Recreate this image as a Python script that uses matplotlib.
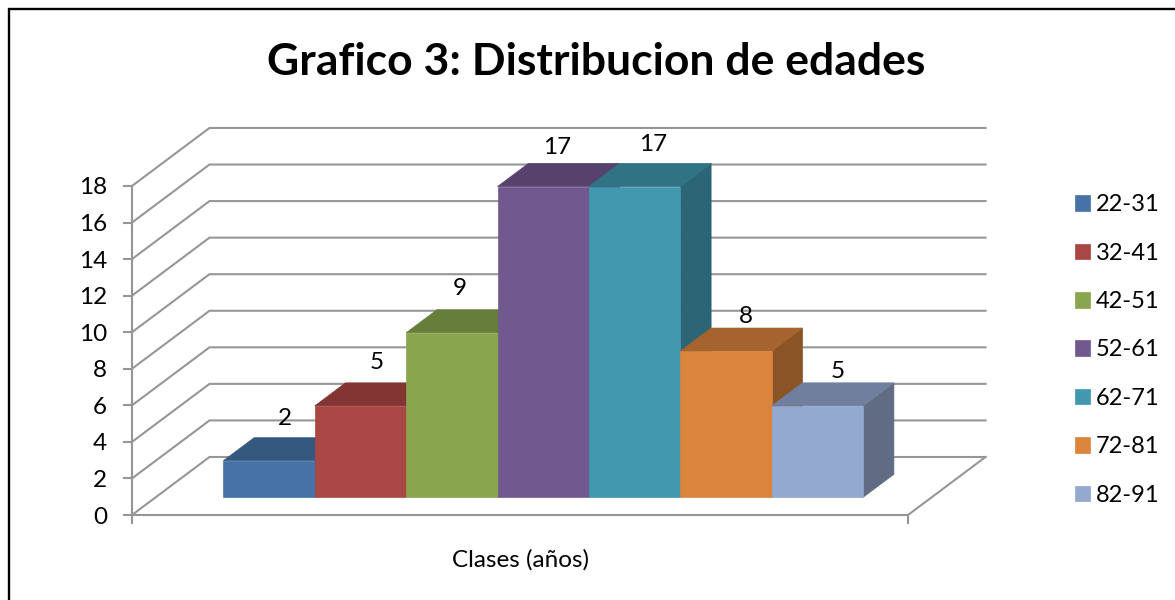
import matplotlib
matplotlib.use('Agg')
import matplotlib.pyplot as plt
from matplotlib.patches import Polygon

plt.rcParams['font.family'] = ['Lato', 'DejaVu Sans']

# datos
clases = ['22-31', '32-41', '42-51', '52-61', '62-71', '72-81', '82-91']
valores = [2, 5, 9, 17, 17, 8, 5]
y_ticks = [0, 2, 4, 6, 8, 10, 12, 14, 16, 18]

# colores: frente, arriba, lado
frente = ['#4672A8', '#AA4643', '#89A54E', '#71588F', '#4198AF', '#DB843D', '#93A9CF']
arriba = ['#35587F', '#833533', '#677D3A', '#56426D', '#307385', '#A5632D', '#6F7F9D']
lado = ['#2F4E72', '#752F2D', '#5C7034', '#4C3B61', '#2B6576', '#8B5426', '#5F6C84']

# desplazamiento de las etiquetas respecto a la barra (px)
label_dx = [16, 16, 8, 14, 18, 20, 20]
label_dy = [42, 43, 44, 39, 42, 35, 34]

W, H = 1175, 600
BAR_PX = 91.4      # ancho de barra
UNIT_PX = 18.28    # px por unidad de y
BAR_X0 = 199.7     # origen de x (primera barra, antes de la profundidad)
WALL_Y0 = 515.0    # y=0 en la pared frontal

# profundidad: 0 = frente, 1 = fondo
DEPTH_X = 77.5 / BAR_PX
DEPTH_Y = 58.0 / UNIT_PX
BAR_FRONT = 0.305
BAR_BACK = 0.702
WALL_L = (132 - BAR_X0) / BAR_PX
WALL_R = (908 - BAR_X0) / BAR_PX


def proj(x, y, d=0.0):
    return (x + d * DEPTH_X, y + d * DEPTH_Y)


fig = plt.figure(figsize=(W / 100, H / 100), dpi=100)
ax = fig.add_axes([0, 0, 1, 1])
ax.set_xlim(-BAR_X0 / BAR_PX, (W - BAR_X0) / BAR_PX)
ax.set_ylim(-(H - WALL_Y0) / UNIT_PX, WALL_Y0 / UNIT_PX)
ax.axis('off')

# marco (solo arriba e izquierda, el resto queda recortado)
ax.plot([8.5 / W, 8.5 / W, 1], [0, 1 - 8.5 / H, 1 - 8.5 / H], transform=ax.transAxes,
        color='black', lw=1.7, solid_joinstyle='miter')

grid = '#969696'
top = y_ticks[-1]
for t in y_ticks:
    p0, p1, p2 = proj(WALL_L, t), proj(WALL_L, t, 1), proj(WALL_R, t, 1)
    ax.plot([p0[0], p1[0], p2[0]], [p0[1], p1[1], p2[1]], color=grid, lw=1.5, zorder=1,
            solid_joinstyle='miter')
    ax.plot([WALL_L - 8 / BAR_PX, WALL_L], [t, t], color=grid, lw=1.5, zorder=1)
    ax.text(WALL_L - 25 / BAR_PX, t - 2 / UNIT_PX, str(t), ha='right', va='center', fontsize=17.5, color='black')

# eje vertical y suelo
ax.plot([WALL_L, WALL_L], [-8 / UNIT_PX, top], color=grid, lw=1.5, zorder=1)
q = [proj(WALL_L, 0), proj(WALL_R, 0), proj(WALL_R, 0, 1)]
ax.plot([c[0] for c in q], [c[1] for c in q], color=grid, lw=1.5, zorder=1)
ax.plot([WALL_R, WALL_R], [-8 / UNIT_PX, 0], color=grid, lw=1.5, zorder=1)

# barras, de izquierda a derecha
handles = []
for i, v in enumerate(valores):
    a = proj(i, 0, BAR_FRONT)
    b = proj(i + 1, 0, BAR_FRONT)
    c = proj(i + 1, v, BAR_FRONT)
    d = proj(i, v, BAR_FRONT)
    c2 = proj(i + 1, v, BAR_BACK)
    d2 = proj(i, v, BAR_BACK)
    b2 = proj(i + 1, 0, BAR_BACK)
    z = 3 + i
    ax.add_patch(Polygon([b, b2, c2, c], fc=lado[i], ec=lado[i], lw=0.5, zorder=z))
    ax.add_patch(Polygon([d, c, c2, d2], fc=arriba[i], ec=arriba[i], lw=0.5, zorder=z))
    h = Polygon([a, b, c, d], fc=frente[i], ec=frente[i], lw=0.5, zorder=z, label=clases[i])
    ax.add_patch(h)
    handles.append(h)
    ax.text(d[0] + 0.5 + label_dx[i] / BAR_PX, d[1] + label_dy[i] / UNIT_PX, str(v),
            ha='center', va='center', fontsize=17.5, color='black', zorder=20)

fig.text(596 / W, 1 - 62 / H, 'Grafico 3: Distribucion de edades', ha='center', va='center',
         fontsize=32, fontweight='bold', color='black')
fig.text(520 / W, 1 - 560 / H, 'Clases (años)', ha='center', va='center', fontsize=17.5, color='black')

ax.legend(handles=handles, loc='center left', bbox_to_anchor=(1075 / W, 1 - 350 / H),
          frameon=False, fontsize=17, handlelength=0.64, handleheight=0.64, handletextpad=0.25,
          labelspacing=1.16, borderpad=0, borderaxespad=0)

fig.savefig('out.png', dpi=100)
